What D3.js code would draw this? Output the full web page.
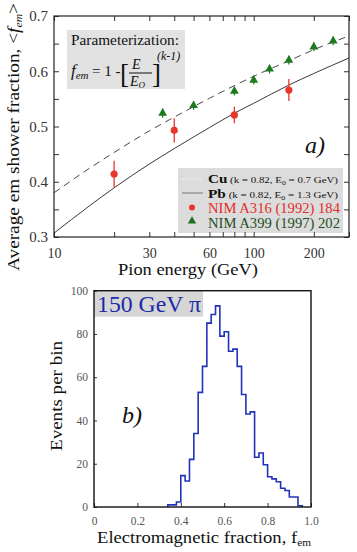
<!DOCTYPE html>
<html><head><meta charset="utf-8">
<script src="https://cdn.jsdelivr.net/npm/d3@7"></script>
<style>
html,body{margin:0;padding:0;background:#fff;}
svg{display:block;}
svg text{font-family:"Liberation Serif","Times New Roman",Times,"DejaVu Serif","Noto Serif",serif;}
</style></head>
<body>
<svg id="chart" width="357" height="552"></svg>
<script>
// ---------- Data: panel a) ----------
const curveEnergy = [10, 15, 20, 30, 40, 60, 80, 100, 150, 200, 300];
const cuFraction  = [0.380, 0.424, 0.453, 0.492, 0.517, 0.551, 0.574, 0.591, 0.619, 0.639, 0.664];
const pbFraction  = [0.307, 0.356, 0.389, 0.432, 0.460, 0.498, 0.524, 0.542, 0.575, 0.596, 0.624];

const redEnergy = [20, 40, 80, 150];
const redFrac   = [0.414, 0.493, 0.521, 0.566];
const redErr    = [0.024, 0.022, 0.015, 0.020];

const greenEnergy = [35, 50, 80, 100, 120, 150, 200, 250];
const greenFrac   = [0.524, 0.538, 0.564, 0.584, 0.604, 0.620, 0.644, 0.655];
const greenErr    = [0.008, 0.008, 0.008, 0.008, 0.008, 0.008, 0.008, 0.008];

const xMajorTicks = [10, 30, 60, 100, 200];
const xMinorTicks = [20, 40, 50, 70, 80, 90, 300];
const yMajorTicks = [0.3, 0.4, 0.5, 0.6, 0.7];
const yMinorTicks = [0.35, 0.45, 0.55, 0.65];

// ---------- Data: panel b) ----------
const binStart = [0.34,0.36,0.38,0.40,0.42,0.44,0.46,0.48,0.50,0.52,0.54,0.56,0.58,0.60,0.62,0.64,0.66,0.68,0.70,0.72,0.74,0.76,0.78,0.80,0.82,0.84,0.86,0.88,0.90,0.92,0.94];
const binCount = [1,1,2.3,14.5,12,22,34,53,65,85,89,93,79,81,72,73,65,52,43,44,23,25,19.5,14,13,11.7,8.7,7.6,4.6,4.6,0.6];
const binWidth = 0.02;
const histXTicks = [0, 0.2, 0.4, 0.6, 0.8, 1.0];
const histYTicks = [0, 20, 40, 60, 80, 100];

const FONT = '"Liberation Serif","Times New Roman",Times,"DejaVu Serif","Noto Serif",serif';
const svg = d3.select("#chart");

// ================= Panel a =================
const L = 54, R = 349, T = 16, B = 237;
const x = d3.scaleLog().domain([10, 300]).range([L, R]);
const y = d3.scaleLinear().domain([0.3, 0.7]).range([B, T]);

// parameterization box
svg.append("rect").attr("x", 67).attr("y", 30).attr("width", 118).attr("height", 59).attr("fill", "#e2e2e2");
svg.append("text").attr("x", 71).attr("y", 45).attr("font-size", 15).attr("fill", "#111")
  .attr("textLength", 108).attr("lengthAdjust", "spacingAndGlyphs").text("Parameterization:");
const fg = svg.append("g").attr("fill", "#111");
const t1 = fg.append("text").attr("x", 71).attr("y", 76).attr("font-size", 17);
t1.append("tspan").attr("font-style", "italic").text("f");
t1.append("tspan").attr("font-style", "italic").attr("font-size", 11).attr("dy", 3).text("em");
fg.append("text").attr("x", 92).attr("y", 76).attr("font-size", 15).text("= 1 -");
fg.append("text").attr("x", 120).attr("y", 83).attr("font-size", 27).attr("font-weight", 300).text("[");
fg.append("text").attr("x", 132).attr("y", 69).attr("font-size", 14).attr("font-style", "italic").text("E");
fg.append("line").attr("x1", 129).attr("x2", 152).attr("y1", 73).attr("y2", 73).attr("stroke", "#111").attr("stroke-width", 1);
const t2 = fg.append("text").attr("x", 130).attr("y", 86).attr("font-size", 14).attr("font-style", "italic");
t2.append("tspan").text("E");
t2.append("tspan").attr("font-size", 9).attr("dy", 2).text("O");
fg.append("text").attr("x", 152).attr("y", 83).attr("font-size", 27).text("]");
fg.append("text").attr("x", 157).attr("y", 60).attr("font-size", 12).attr("font-style", "italic").text("(k-1)");

// curves
const line = d3.line().x(d => x(d[0])).y(d => y(d[1])).curve(d3.curveMonotoneX);
svg.append("path").datum(curveEnergy.map((e, i) => [e, cuFraction[i]]))
  .attr("d", line).attr("fill", "none").attr("stroke", "#333").attr("stroke-width", 0.9).attr("stroke-dasharray", "7,5");
svg.append("path").datum(curveEnergy.map((e, i) => [e, pbFraction[i]]))
  .attr("d", line).attr("fill", "none").attr("stroke", "#222").attr("stroke-width", 0.9);

// "a)"
svg.append("text").attr("x", 305).attr("y", 153).attr("font-size", 24).attr("font-style", "italic").attr("fill", "#111").text("a)");

// legend
svg.append("rect").attr("x", 178).attr("y", 168).attr("width", 165).attr("height", 65).attr("fill", "#dcdcdc");
svg.append("line").attr("x1", 182).attr("x2", 203).attr("y1", 179).attr("y2", 179).attr("stroke", "#f4f4f4").attr("stroke-width", 1).attr("stroke-dasharray", "2,1.5");
svg.append("line").attr("x1", 182).attr("x2", 203).attr("y1", 193).attr("y2", 193).attr("stroke", "#777").attr("stroke-width", 1);
function legendParam(yb, name, e0, len) {
  const t = svg.append("text").attr("x", 208).attr("y", yb).attr("fill", "#111")
    .attr("textLength", len).attr("lengthAdjust", "spacingAndGlyphs");
  t.append("tspan").attr("font-size", 12.5).attr("font-weight", "bold").text(name);
  t.append("tspan").attr("font-size", 9).text(" (k = 0.82, E");
  t.append("tspan").attr("font-size", 6.5).attr("dy", 2).text("0");
  t.append("tspan").attr("font-size", 9).attr("dy", -2).text(" = " + e0 + " GeV)");
}
legendParam(182.5, "Cu", "0.7", 130);
legendParam(197.5, "Pb", "1.3", 130);
svg.append("circle").attr("cx", 192).attr("cy", 207.5).attr("r", 3).attr("fill", "#e8352d");
svg.append("text").attr("x", 208).attr("y", 212.5).attr("font-size", 14).attr("fill", "#e0302a")
  .attr("textLength", 132).attr("lengthAdjust", "spacingAndGlyphs").text("NIM A316 (1992) 184");
svg.append("path").attr("d", d3.symbol().type(d3.symbolTriangle).size(30)()).attr("transform", "translate(192,221)").attr("fill", "#1e6e1e");
svg.append("text").attr("x", 208).attr("y", 227.5).attr("font-size", 14).attr("fill", "#244f24")
  .attr("textLength", 132).attr("lengthAdjust", "spacingAndGlyphs").text("NIM A399 (1997) 202");

// data points
const red = svg.append("g");
redEnergy.forEach((e, i) => {
  red.append("line").attr("x1", x(e)).attr("x2", x(e)).attr("y1", y(redFrac[i] - redErr[i])).attr("y2", y(redFrac[i] + redErr[i]))
    .attr("stroke", "#e8352d").attr("stroke-width", 1.3);
  red.append("circle").attr("cx", x(e)).attr("cy", y(redFrac[i])).attr("r", 3.6).attr("fill", "#e8352d");
});
const green = svg.append("g");
greenEnergy.forEach((e, i) => {
  green.append("line").attr("x1", x(e)).attr("x2", x(e)).attr("y1", y(greenFrac[i] - greenErr[i])).attr("y2", y(greenFrac[i] + greenErr[i]))
    .attr("stroke", "#1e7a1e").attr("stroke-width", 1.2);
  green.append("path").attr("d", d3.symbol().type(d3.symbolTriangle).size(34)())
    .attr("transform", `translate(${x(e)},${y(greenFrac[i])})`).attr("fill", "#1e7a1e");
});

// axes a
function styleAxis(g, labelColor, fs) {
  g.select(".domain").remove();
  g.attr("font-family", null);
  g.selectAll(".tick line").attr("stroke", "#333").attr("stroke-width", 1);
  g.selectAll(".tick text").attr("fill", labelColor).attr("font-size", fs).style("font-family", FONT);
}
const fmtA = d => d;
let g;
g = svg.append("g").attr("transform", `translate(0,${B})`).call(d3.axisBottom(x).tickValues(xMajorTicks).tickFormat(fmtA).tickSize(-5).tickPadding(11));
styleAxis(g, "#333", 14);
g = svg.append("g").attr("transform", `translate(0,${B})`).call(d3.axisBottom(x).tickValues(xMinorTicks).tickFormat("").tickSize(-5));
styleAxis(g, "#333", 14);
g = svg.append("g").attr("transform", `translate(0,${T})`).call(d3.axisTop(x).tickValues(xMajorTicks.concat(xMinorTicks)).tickFormat("").tickSize(-5));
styleAxis(g, "#333", 14);
g = svg.append("g").attr("transform", `translate(${L},0)`).call(d3.axisLeft(y).tickValues(yMajorTicks).tickFormat(d3.format(".1f")).tickSize(-5).tickPadding(6));
styleAxis(g, "#333", 15);
g = svg.append("g").attr("transform", `translate(${L},0)`).call(d3.axisLeft(y).tickValues(yMinorTicks).tickFormat("").tickSize(-5));
styleAxis(g, "#333", 15);
g = svg.append("g").attr("transform", `translate(${R},0)`).call(d3.axisRight(y).tickValues(yMajorTicks.concat(yMinorTicks)).tickFormat("").tickSize(-5));
styleAxis(g, "#333", 15);
svg.append("rect").attr("x", L).attr("y", T).attr("width", R - L).attr("height", B - T).attr("fill", "none").attr("stroke", "#222").attr("stroke-width", 1.2);

// labels a
svg.append("text").attr("x", 188).attr("y", 275).attr("text-anchor", "middle").attr("font-size", 17).attr("fill", "#111")
  .attr("textLength", 140).attr("lengthAdjust", "spacingAndGlyphs").text("Pion energy (GeV)");
const yl = svg.append("text").attr("transform", "translate(19,137) rotate(-90)").attr("text-anchor", "middle").attr("font-size", 16.5).attr("fill", "#111")
  .attr("textLength", 268).attr("lengthAdjust", "spacingAndGlyphs");
yl.append("tspan").text("Average em shower fraction, <");
yl.append("tspan").attr("font-style", "italic").text("f");
yl.append("tspan").attr("font-style", "italic").attr("font-size", 10).attr("dy", 3).text("em");
yl.append("tspan").attr("dy", -3).text(">");

// ================= Panel b =================
const L2 = 94, R2 = 311, T2 = 290.7, B2 = 507;
const hx = d3.scaleLinear().domain([0, 1]).range([L2, R2]);
const hy = d3.scaleLinear().domain([0, 100]).range([B2, T2]);

svg.append("rect").attr("x", L2).attr("y", T2).attr("width", 109).attr("height", 26).attr("fill", "#d6d6d6");
svg.append("text").attr("x", 97).attr("y", 312).attr("font-size", 23).attr("fill", "#1a2aa8")
  .attr("textLength", 104).attr("lengthAdjust", "spacingAndGlyphs").text("150 GeV π");
svg.append("text").attr("x", 122).attr("y", 423).attr("font-size", 24).attr("font-style", "italic").attr("fill", "#111").text("b)");

const pts = [[binStart[0], 0]];
binStart.forEach((s, i) => pts.push([s, binCount[i]]));
pts.push([binStart[binStart.length - 1] + binWidth, 0]);
const hline = d3.line().x(d => hx(d[0])).y(d => hy(d[1])).curve(d3.curveStepAfter);
svg.append("path").datum(pts).attr("d", hline).attr("fill", "none").attr("stroke", "#2233bb").attr("stroke-width", 1.6);

g = svg.append("g").attr("transform", `translate(0,${B2})`).call(d3.axisBottom(hx).tickValues(histXTicks).tickFormat(d => d === 0 ? "0" : d3.format(".1f")(d)).tickSize(-4).tickPadding(10));
styleAxis(g, "#555", 11.5);
g = svg.append("g").attr("transform", `translate(${L2},0)`).call(d3.axisLeft(hy).tickValues(histYTicks).tickSize(-4).tickPadding(6));
styleAxis(g, "#555", 11.5);
g.selectAll(".tick line").attr("x2", 3).attr("x1", 0);
svg.append("rect").attr("x", L2).attr("y", T2).attr("width", R2 - L2).attr("height", B2 - T2).attr("fill", "none").attr("stroke", "#111").attr("stroke-width", 1.4);

const xl = svg.append("text").attr("x", 204).attr("y", 543).attr("text-anchor", "middle").attr("font-size", 16.5).attr("fill", "#111")
  .attr("textLength", 214).attr("lengthAdjust", "spacingAndGlyphs");
xl.append("tspan").text("Electromagnetic fraction, f");
xl.append("tspan").attr("font-size", 10).attr("dy", 3).text("em");
svg.append("text").attr("transform", "translate(62,396) rotate(-90)").attr("text-anchor", "middle").attr("font-size", 16).attr("fill", "#111")
  .attr("textLength", 110).attr("lengthAdjust", "spacingAndGlyphs").text("Events per bin");
</script>
</body></html>
